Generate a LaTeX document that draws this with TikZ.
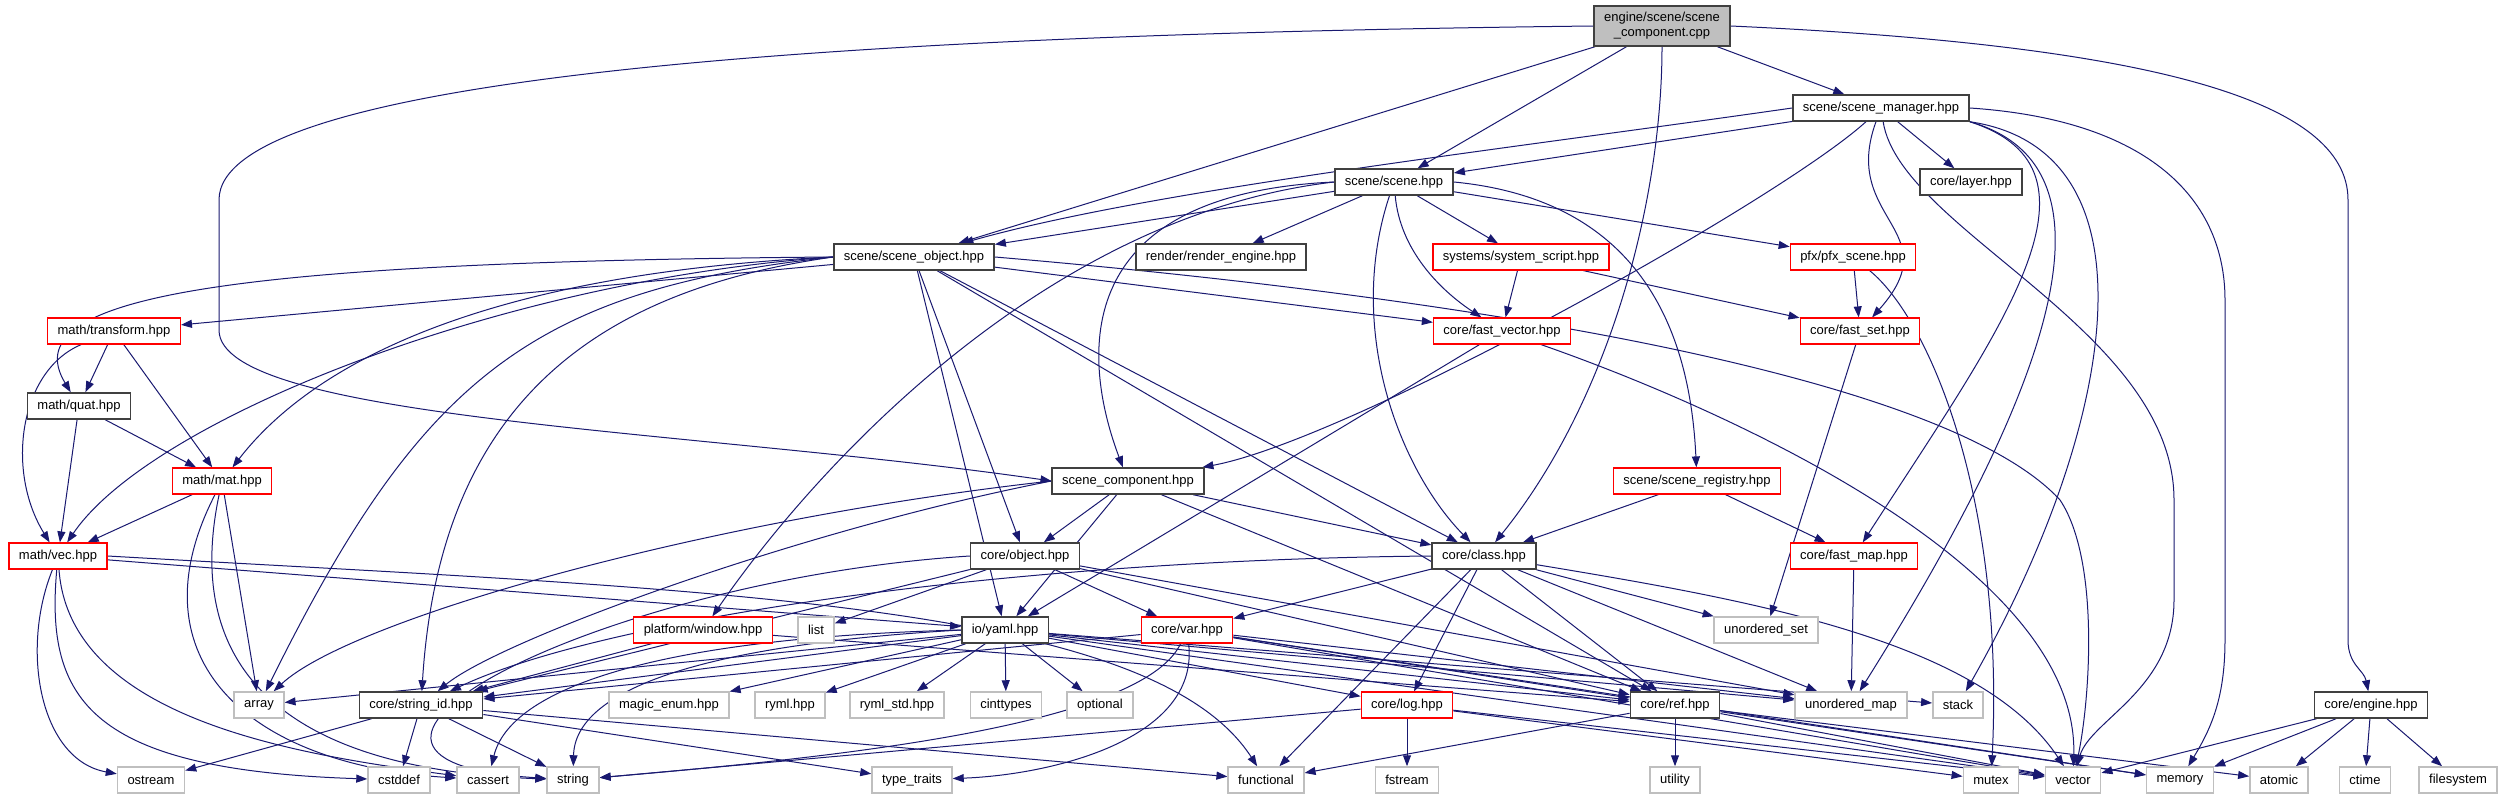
\documentclass[tikz,border=0pt]{standalone}
\usepackage{fontspec}
\setmainfont{Liberation Sans}
\usetikzlibrary{arrows.meta,backgrounds}
\definecolor{edgeblue}{HTML}{191970}
\definecolor{hdrgrey}{HTML}{404040}
\definecolor{sysgrey}{HTML}{BFBFBF}
\definecolor{truncred}{HTML}{FF0000}

\begin{document}
\begin{tikzpicture}[x=1pt,y=-1pt,
  every node/.style={font=\fontsize{13}{15}\selectfont,minimum height=26pt,inner xsep=10pt,inner ysep=2pt,fill=white},
  hdr/.style={draw=hdrgrey,line width=1.5pt},
  trunc/.style={draw=truncred,line width=1.2pt},
  sys/.style={draw=sysgrey,line width=1.5pt},
  src/.style={draw=hdrgrey,fill=sysgrey,line width=1.5pt,align=center},
  dep/.style={draw=edgeblue,line width=1pt,-{Triangle[length=11pt,width=8pt]}}]
\useasboundingbox (0,0) rectangle (2503,799);
% files, row by row
\node[src,minimum height=40pt] (cpp) at (1662,26) {engine/scene/scene\\\_component.cpp};
\node[hdr] (mgr) at (1881,108) {scene/scene\_manager.hpp};
\node[hdr] (scn) at (1394,182) {scene/scene.hpp};
\node[hdr] (layer) at (1971,182) {core/layer.hpp};
\node[hdr] (sobj) at (914,257) {scene/scene\_object.hpp};
\node[hdr] (render) at (1221,257) {render/render\_engine.hpp};
\node[trunc] (sysscript) at (1521,257) {systems/system\_script.hpp};
\node[trunc] (pfx) at (1853,257) {pfx/pfx\_scene.hpp};
\node[trunc] (transform) at (114,331) {math/transform.hpp};
\node[trunc] (fvec) at (1502,331) {core/fast\_vector.hpp};
\node[trunc] (fset) at (1860,331) {core/fast\_set.hpp};
\node[hdr] (quat) at (79,406) {math/quat.hpp};
\node[trunc] (mat) at (222,481) {math/mat.hpp};
\node[hdr] (scmp) at (1128,481) {scene\_component.hpp};
\node[trunc] (sreg) at (1697,481) {scene/scene\_registry.hpp};
\node[trunc] (vec) at (58,556) {math/vec.hpp};
\node[hdr] (object) at (1025,556) {core/object.hpp};
\node[hdr] (class) at (1484,556) {core/class.hpp};
\node[trunc] (fmap) at (1854,556) {core/fast\_map.hpp};
\node[trunc] (window) at (703,630) {platform/window.hpp};
\node[sys] (list) at (816,630) {list};
\node[hdr] (yaml) at (1005,630) {io/yaml.hpp};
\node[trunc] (var) at (1187,630) {core/var.hpp};
\node[sys] (uset) at (1766,630) {unordered\_set};
\node[sys] (array) at (259,705) {array};
\node[hdr] (sid) at (421,705) {core/string\_id.hpp};
\node[sys] (magic) at (669,705) {magic\_enum.hpp};
\node[sys] (ryml) at (790,705) {ryml.hpp};
\node[sys] (rymlstd) at (897,705) {ryml\_std.hpp};
\node[sys] (cinttypes) at (1006,705) {cinttypes};
\node[sys] (optional) at (1100,705) {optional};
\node[trunc] (log) at (1407,705) {core/log.hpp};
\node[hdr] (ref) at (1675,705) {core/ref.hpp};
\node[sys] (umap) at (1851,705) {unordered\_map};
\node[sys] (stack) at (1958,705) {stack};
\node[hdr] (engine) at (2371,705) {core/engine.hpp};
\node[sys] (ostream) at (151,780) {ostream};
\node[sys] (cstddef) at (399,780) {cstddef};
\node[sys] (cassert) at (488,780) {cassert};
\node[sys] (string) at (573,780) {string};
\node[sys] (typetraits) at (912,780) {type\_traits};
\node[sys] (functional) at (1266,780) {functional};
\node[sys] (fstream) at (1407,780) {fstream};
\node[sys] (utility) at (1675,780) {utility};
\node[sys] (mutex) at (1991,780) {mutex};
\node[sys] (vector) at (2073,780) {vector};
\node[sys] (memory) at (2180,780) {memory};
\node[sys] (atomic) at (2279,780) {atomic};
\node[sys] (ctime) at (2365,780) {ctime};
\node[sys] (filesystem) at (2458,780) {filesystem};
% include edges behind the boxes
\begin{scope}[on background layer]
\fill[white] (0,0) rectangle (2503,799);
\foreach \t in {mgr,scn,sobj} \draw[dep] (cpp) -- (\t);
\draw[dep] (cpp.west) .. controls (800,35) and (219,80) .. (219,200) -- (219,330) .. controls (219,420) and (700,430) .. (scmp.west);
\draw[dep] (cpp.east) .. controls (2150,45) and (2348,100) .. (2348,200) -- (2348,640) .. controls (2348,665) and (2364,670) .. (engine);
\draw[dep] (cpp.south) .. controls (1662,200) and (1610,400) .. (class);
\foreach \t in {scn,layer} \draw[dep] (mgr) -- (\t);
\draw[dep] (mgr.west) .. controls (1500,150) and (1150,190) .. (sobj);
\draw[dep] (mgr) .. controls (1780,200) and (1350,440) .. (scmp);
\draw[dep] (mgr) .. controls (1840,220) and (1950,230) .. (fset);
\draw[dep] (mgr.south east) .. controls (2120,170) and (2000,330) .. (fmap);
\draw[dep] (mgr.south east) .. controls (2140,170) and (2030,420) .. (umap);
\draw[dep] (mgr.south east) .. controls (2160,150) and (2120,420) .. (stack);
\draw[dep] (mgr) .. controls (1900,230) and (2174,330) .. (2174,500) -- (2174,600) .. controls (2174,690) and (2090,720) .. (vector);
\draw[dep] (mgr.east) .. controls (2150,120) and (2225,200) .. (2225,300) -- (2225,640) .. controls (2225,700) and (2210,730) .. (memory);
\foreach \t in {sobj,render,sysscript,pfx} \draw[dep] (scn) -- (\t);
\draw[dep] (scn) .. controls (1400,250) and (1440,290) .. (fvec);
\draw[dep] (scn.west) .. controls (1050,195) and (1090,380) .. (scmp);
\draw[dep] (scn.west) .. controls (1050,215) and (820,460) .. (window);
\draw[dep] (scn.east) .. controls (1640,200) and (1690,330) .. (sreg);
\draw[dep] (scn) .. controls (1345,330) and (1400,470) .. (class);
\foreach \t in {transform,yaml,object,fvec,class,ref} \draw[dep] (sobj) -- (\t);
\draw[dep] (sobj.west) .. controls (200,262) and (15,300) .. (quat);
\draw[dep] (sobj.west) .. controls (500,280) and (150,420) .. (vec);
\draw[dep] (sobj.west) .. controls (450,275) and (300,380) .. (mat);
\draw[dep] (sobj.west) .. controls (530,290) and (420,380) .. (array);
\draw[dep] (sobj.west) .. controls (600,290) and (440,400) .. (sid);
\draw[dep] (sobj.east) .. controls (1500,300) and (1950,380) .. (2060,500) .. controls (2100,560) and (2090,700) .. (vector);
\foreach \t in {fvec,fset} \draw[dep] (sysscript) -- (\t);
\draw[dep] (pfx) -- (fset);
\draw[dep] (pfx) .. controls (1930,320) and (2005,500) .. (mutex);
\foreach \t in {quat,mat} \draw[dep] (transform) -- (\t);
\draw[dep] (transform) .. controls (20,370) and (5,470) .. (vec);
\draw[dep] (fvec) -- (yaml);
\draw[dep] (fvec) .. controls (1700,400) and (2080,560) .. (vector);
\draw[dep] (fset) -- (uset);
\foreach \t in {mat,vec} \draw[dep] (quat) -- (\t);
\foreach \t in {vec,array} \draw[dep] (mat) -- (\t);
\draw[dep] (mat) .. controls (130,660) and (250,765) .. (cassert);
\draw[dep] (mat) .. controls (180,680) and (300,770) .. (string);
\foreach \t in {object,yaml,class,ref} \draw[dep] (scmp) -- (\t);
\draw[dep] (scmp.west) .. controls (700,520) and (350,620) .. (array);
\draw[dep] (scmp.west) .. controls (800,530) and (500,640) .. (sid);
\foreach \t in {class,fmap} \draw[dep] (sreg) -- (\t);
\draw[dep] (vec) -- (yaml);
\draw[dep] (vec) .. controls (20,650) and (40,760) .. (ostream);
\draw[dep] (vec) .. controls (45,700) and (90,770) .. (cstddef);
\draw[dep] (vec) .. controls (70,720) and (300,755) .. (cassert);
\draw[dep] (vec.east) .. controls (700,590) and (1150,600) .. (functional);
\foreach \t in {list,sid,var,ref,umap} \draw[dep] (object) -- (\t);
\draw[dep] (object.west) .. controls (600,580) and (250,760) .. (string);
\foreach \t in {var,log,functional,ref,uset,umap} \draw[dep] (class) -- (\t);
\draw[dep] (class) .. controls (1750,600) and (1980,640) .. (vector);
\draw[dep] (class.west) .. controls (1000,560) and (600,620) .. (sid);
\draw[dep] (fmap) -- (umap);
\foreach \t in {sid,ref} \draw[dep] (window) -- (\t);
\foreach \t in {array,sid,magic,ryml,rymlstd,cinttypes,optional,log,ref,umap,stack,vector} \draw[dep] (yaml) -- (\t);
\draw[dep] (yaml.west) .. controls (650,638) and (510,690) .. (cassert);
\draw[dep] (yaml.west) .. controls (700,645) and (575,690) .. (string);
\foreach \t in {sid,ref,umap,vector,memory} \draw[dep] (var) -- (\t);
\draw[dep] (var) .. controls (1140,730) and (800,760) .. (string);
\draw[dep] (var) .. controls (1200,740) and (1050,775) .. (typetraits);
\foreach \t in {string,fstream,mutex,vector} \draw[dep] (log) -- (\t);
\foreach \t in {functional,utility,atomic,vector,memory} \draw[dep] (ref) -- (\t);
\foreach \t in {ostream,cstddef,string,typetraits,functional} \draw[dep] (sid) -- (\t);
\foreach \t in {vector,memory,atomic,ctime,filesystem} \draw[dep] (engine) -- (\t);
\end{scope}
\end{tikzpicture}
\end{document}
